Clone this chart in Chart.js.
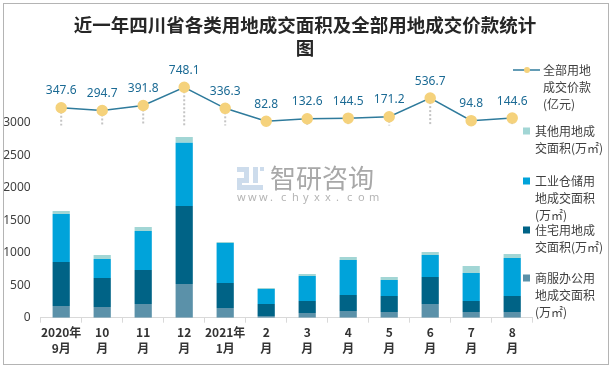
<!DOCTYPE html>
<html>
<head>
<meta charset="utf-8">
<script src="https://cdn.jsdelivr.net/npm/chart.js@4.4.1/dist/chart.umd.min.js"></script>
<style>
  html, body { margin: 0; padding: 0; background: #fff; }
  #wrap { width: 613px; height: 369px; }
</style>
</head>
<body>
<div id="wrap"><canvas id="chart" width="613" height="369"></canvas></div>
<script>
// months (x categories)
const months = [['2020年', '9月'], ['10', '月'], ['11', '月'], ['12', '月'], ['2021年', '1月'], ['2', '月'], ['3', '月'], ['4', '月'], ['5', '月'], ['6', '月'], ['7', '月'], ['8', '月']]

// land area, 万㎡ (stacked bars, bottom to top)
const shangfu = [180, 165, 211, 518, 149, 26, 72, 103, 88, 211, 88, 88]
const zhuzhai = [677, 446, 523, 1200, 385, 185, 185, 246, 246, 415, 169, 246]
const gongye = [738, 292, 599, 974, 615, 230, 384, 538, 246, 338, 431, 584]
const qita = [46, 61, 62, 87, 15, 16, 31, 47, 46, 47, 107, 62]

// total land price, 亿元 (line)
const price = [347.6, 294.7, 391.8, 748.1, 336.3, 82.8, 132.6, 144.5, 171.2, 536.7, 94.8, 144.6]

const yTicks = [0, 500, 1000, 1500, 2000, 2500, 3000]

const title = ['近一年四川省各类用地成交面积及全部用地成交价款统计', '图']

const FONT = "'Noto Sans', 'Noto Sans CJK SC', sans-serif"
const CJK = "'Noto Sans CJK SC', sans-serif"

// legend texts (wrapped like the original)
const legendLines = [
  ['全部用地', '成交价款', '(亿元)'],
  ['其他用地成', '交面积(万㎡)'],
  ['工业仓储用', '地成交面积', '(万㎡)'],
  ['住宅用地成', '交面积(万㎡)'],
  ['商服办公用', '地成交面积', '(万㎡)']
]
// dataset index for each legend entry, and where the first line sits
const legendIdx = [0, 4, 3, 2, 1]
const legendTop = [70, 131, 181, 230, 278]

const extras = {
  id: 'extras',
  beforeDatasetsDraw (chart) {
    const ctx = chart.ctx
    // watermark
    ctx.save()
    ctx.fillStyle = '#cddcec'
    ctx.fillRect(237, 167, 12, 5)
    ctx.fillRect(244, 172, 5, 6)
    ctx.fillRect(237, 178, 12, 5)
    ctx.fillRect(237, 183, 5, 7)
    ctx.fillRect(237, 185, 26, 5)
    ctx.fillRect(253, 167, 5, 16)
    ctx.fillRect(260, 167, 4, 4)
    ctx.fillStyle = '#a8a8a8'
    ctx.font = '26px ' + CJK
    ctx.textBaseline = 'middle'
    ctx.fillText('智研咨询', 270, 178)
    ctx.fillStyle = '#b5b5b5'
    ctx.font = '11px ' + FONT
    const w = 'www.chyxx.com'
    for (let i = 0; i < w.length; i++) ctx.fillText(w[i], 237 + i * 11, 198)
    ctx.restore()

    // dotted drop lines from the price points
    const meta = chart.getDatasetMeta(0)
    const y0 = chart.scales.y2.getPixelForValue(0)
    ctx.save()
    ctx.strokeStyle = '#c4c4c4'
    ctx.lineWidth = 2
    ctx.setLineDash([2, 2])
    meta.data.forEach(p => {
      ctx.beginPath()
      ctx.moveTo(p.x, p.y)
      ctx.lineTo(p.x, y0)
      ctx.stroke()
    })
    ctx.restore()
  },
  afterDraw (chart) {
    const ctx = chart.ctx
    ctx.save()
    // frame
    ctx.strokeStyle = '#b4b4b4'
    ctx.lineWidth = 1
    ctx.strokeRect(3.5, 3.5, 605, 361)

    // title
    ctx.fillStyle = '#262626'
    ctx.font = 'bold 18.5px ' + CJK
    ctx.textAlign = 'center'
    ctx.textBaseline = 'middle'
    title.forEach((t, i) => ctx.fillText(t, 305, 25 + i * 23))

    // value labels on the line
    const meta = chart.getDatasetMeta(0)
    ctx.fillStyle = '#1b6a94'
    ctx.font = '12px ' + FONT
    meta.data.forEach((p, i) => {
      ctx.fillText(price[i].toFixed(1), p.x, p.y - 17)
    })

    // legend
    ctx.textAlign = 'left'
    ctx.font = '12px ' + CJK
    legendIdx.forEach((di, k) => {
      const ds = chart.data.datasets[di]
      const y = legendTop[k]
      if (ds.type === 'line') {
        ctx.strokeStyle = ds.borderColor
        ctx.lineWidth = 1.5
        ctx.beginPath()
        ctx.moveTo(513, y)
        ctx.lineTo(540, y)
        ctx.stroke()
        ctx.fillStyle = ds.pointBackgroundColor
        ctx.beginPath()
        ctx.arc(527, y, 3, 0, Math.PI * 2)
        ctx.fill()
      } else {
        ctx.fillStyle = ds.backgroundColor
        ctx.fillRect(523, y - 3.5, 7, 7)
      }
      ctx.fillStyle = '#404040'
      const tx = ds.type === 'line' ? 543 : 535
      legendLines[k].forEach((t, j) => ctx.fillText(t, tx, y + j * 17.3))
    })
    ctx.restore()
  }
}

new Chart(document.getElementById('chart'), {
  type: 'bar',
  data: {
    labels: months,
    datasets: [
      {
        type: 'line',
        label: '全部用地成交价款(亿元)',
        data: price,
        yAxisID: 'y2',
        borderColor: '#2f7b9c',
        borderWidth: 1.5,
        pointBackgroundColor: '#f5d27c',
        pointBorderColor: '#f5d27c',
        pointRadius: 5,
        order: 0
      },
      { label: '商服办公用地成交面积(万㎡)', data: shangfu, backgroundColor: '#5b91a9', order: 1 },
      { label: '住宅用地成交面积(万㎡)', data: zhuzhai, backgroundColor: '#006386', order: 1 },
      { label: '工业仓储用地成交面积(万㎡)', data: gongye, backgroundColor: '#00a3da', order: 1 },
      { label: '其他用地成交面积(万㎡)', data: qita, backgroundColor: '#a2d6d5', order: 1 }
    ]
  },
  options: {
    responsive: false,
    animation: false,
    devicePixelRatio: 1,
    categoryPercentage: 1,
    barPercentage: 0.42,
    layout: { padding: { top: 57.7, right: 80.3, left: 0, bottom: 0 } },
    plugins: {
      legend: { display: false },
      title: { display: false },
      tooltip: { enabled: false }
    },
    scales: {
      x: {
        stacked: true,
        grid: { display: true, drawOnChartArea: false, drawTicks: true, tickLength: 5, color: '#d9d9d9' },
        border: { display: true, color: '#d9d9d9' },
        ticks: {
          color: '#333',
          font: { family: CJK, size: 12, weight: 'bold', lineHeight: 1.33 },
          padding: 2,
          maxRotation: 0,
          autoSkip: false
        },
        afterFit (s) { s.width = s.width; s.height = 51.3 }
      },
      y: {
        stacked: true,
        min: 0,
        max: 4000,
        grid: { display: false, drawTicks: false },
        border: { display: false },
        afterBuildTicks (s) { s.ticks = yTicks.map(v => ({ value: v })) },
        ticks: {
          color: '#404040',
          font: { family: FONT, size: 12 },
          padding: 10,
          callback: v => String(v)
        },
        afterFit (s) { s.width = 40.7 }
      },
      y2: {
        display: false,
        min: -3761,
        max: 1327
      }
    }
  },
  plugins: [extras]
})
</script>
</body>
</html>
